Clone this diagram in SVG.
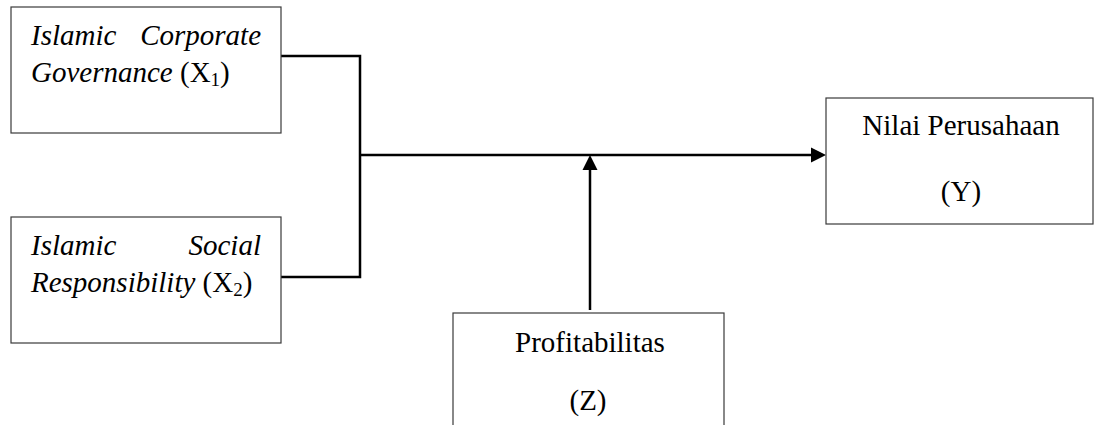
<svg xmlns="http://www.w3.org/2000/svg" width="1094" height="425" viewBox="0 0 1094 425">
<style>
.box{fill:#fff;stroke:#3a3a3a;stroke-width:1.2}
.t{font-family:"Liberation Serif","Times New Roman",serif;font-size:29px;fill:#000}
.i{font-style:italic}
.c{stroke:#000;stroke-width:2.5;fill:none}
.ah{fill:#000}
</style>
<rect width="1094" height="425" fill="#fff"/>
<g id="connectors">
<polyline class="c" points="281,56 360,56 360,277 281,277"/>
<line class="c" x1="360" y1="155" x2="813" y2="155"/>
<polygon class="ah" points="811,147.5 826,155 811,162.5"/>
<line class="c" x1="590" y1="310" x2="590" y2="169"/>
<polygon class="ah" points="582.5,170 590,155 597.5,170"/>
</g>
<g id="node-x1">
<rect class="box" x="11" y="7" width="270" height="126"/>
<text class="t i" x="31" y="45">Islamic</text>
<text class="t i" x="261" y="45" text-anchor="end">Corporate</text>
<text class="t" x="31" y="82"><tspan class="i">Governance</tspan> (X<tspan font-size="19" dy="4">1</tspan><tspan dy="-4">)</tspan></text>
</g>
<g id="node-x2">
<rect class="box" x="11" y="217" width="270" height="126"/>
<text class="t i" x="31" y="255">Islamic</text>
<text class="t i" x="261" y="255" text-anchor="end">Social</text>
<text class="t" x="31" y="292"><tspan class="i">Responsibility</tspan> (X<tspan font-size="19" dy="4">2</tspan><tspan dy="-4">)</tspan></text>
</g>
<g id="node-y">
<rect class="box" x="826" y="98" width="267" height="126"/>
<text class="t" x="961" y="135" text-anchor="middle">Nilai Perusahaan</text>
<text class="t" x="961" y="201" text-anchor="middle">(Y)</text>
</g>
<g id="node-z">
<rect class="box" x="453" y="313" width="271" height="130"/>
<text class="t" x="590" y="352" text-anchor="middle">Profitabilitas</text>
<text class="t" x="588" y="410" text-anchor="middle">(Z)</text>
</g>
</svg>
